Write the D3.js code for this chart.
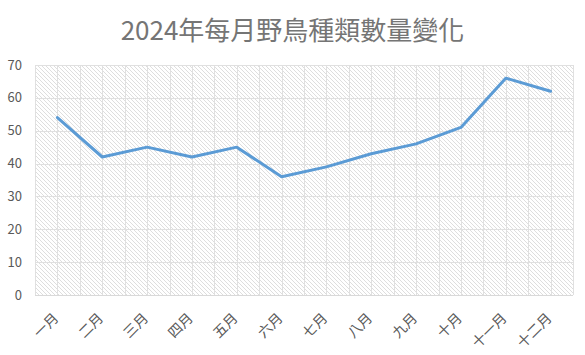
<!DOCTYPE html>
<html>
<head>
<meta charset="utf-8">
<script src="https://cdn.jsdelivr.net/npm/d3@7"></script>
<style>
  body { margin: 0; background: #fff; }
  text { font-family: "Noto Sans CJK TC", "Noto Sans", sans-serif; }
</style>
</head>
<body>
<div id="chart"></div>
<script>
const months = ['一月', '二月', '三月', '四月', '五月', '六月', '七月', '八月', '九月', '十月', '十一月', '十二月'];
const species = [54, 42, 45, 42, 45, 36, 39, 43, 46, 51, 66, 62];
const yTicks = [0, 10, 20, 30, 40, 50, 60, 70];
const title = '2024年每月野鳥種類數量變化';

const width = 585, height = 355;
const margin = { top: 65, right: 12, bottom: 60, left: 35 };

const svg = d3.select('#chart')
  .append('svg')
  .attr('width', width)
  .attr('height', height);

// diagonal hatch fill for plot area
const defs = svg.append('defs');
const pat = defs.append('pattern')
  .attr('id', 'hatch')
  .attr('patternUnits', 'userSpaceOnUse')
  .attr('width', 4)
  .attr('height', 4);
pat.append('path')
  .attr('d', 'M-1,-1 L5,5 M-1,3 L1,5 M3,-1 L5,1')
  .attr('stroke', '#dadada')
  .attr('stroke-width', 0.9);

const x = d3.scaleBand()
  .domain(months)
  .range([margin.left, width - margin.right]);

const y = d3.scaleLinear()
  .domain([0, 70])
  .range([height - margin.bottom, margin.top]);

svg.append('rect')
  .attr('x', margin.left)
  .attr('y', margin.top)
  .attr('width', x.range()[1] - margin.left)
  .attr('height', y(0) - margin.top)
  .attr('fill', 'url(#hatch)');

// horizontal gridlines
svg.append('g')
  .selectAll('line')
  .data(yTicks)
  .join('line')
  .attr('x1', margin.left)
  .attr('x2', x.range()[1])
  .attr('y1', d => Math.round(y(d)) + 0.5)
  .attr('y2', d => Math.round(y(d)) + 0.5)
  .attr('stroke', '#e0e0e0')
  .attr('stroke-width', 1);

// vertical gridlines: boundaries and centers
const vx = [];
months.forEach(m => { vx.push(x(m)); vx.push(x(m) + x.bandwidth() / 2); });
vx.push(x.range()[1]);
svg.append('g')
  .selectAll('line')
  .data(vx)
  .join('line')
  .attr('x1', d => Math.round(d) + 0.5)
  .attr('x2', d => Math.round(d) + 0.5)
  .attr('y1', margin.top)
  .attr('y2', y(0))
  .attr('stroke', '#e0e0e0')
  .attr('stroke-width', 1);

// x axis line
svg.append('line')
  .attr('x1', margin.left)
  .attr('x2', x.range()[1])
  .attr('y1', Math.round(y(0)) + 0.5)
  .attr('y2', Math.round(y(0)) + 0.5)
  .attr('stroke', '#d9d9d9');

// y labels
svg.append('g')
  .selectAll('text')
  .data(yTicks)
  .join('text')
  .text(d => d)
  .attr('x', 22)
  .attr('y', d => y(d) + 4.5)
  .attr('text-anchor', 'end')
  .attr('font-size', 13)
  .attr('fill', '#595959');

// x labels
svg.append('g')
  .selectAll('text')
  .data(months)
  .join('text')
  .text(d => d)
  .attr('text-anchor', 'end')
  .attr('transform', d => `translate(${x(d) + x.bandwidth() / 2 + 2},${y(0) + 24}) rotate(-45)`)
  .attr('font-size', 14)
  .attr('fill', '#595959');

// line
const line = d3.line()
  .x((d, i) => x(months[i]) + x.bandwidth() / 2)
  .y(d => y(d));

svg.append('path')
  .datum(species)
  .attr('d', line)
  .attr('fill', 'none')
  .attr('stroke', '#5b9bd5')
  .attr('stroke-width', 3)
  .attr('stroke-linejoin', 'round')
  .attr('stroke-linecap', 'round');

svg.append('text')
  .text(title)
  .attr('x', width / 2)
  .attr('y', 40)
  .attr('text-anchor', 'middle')
  .attr('font-size', 26)
  .attr('fill', '#757575');
</script>
</body>
</html>
